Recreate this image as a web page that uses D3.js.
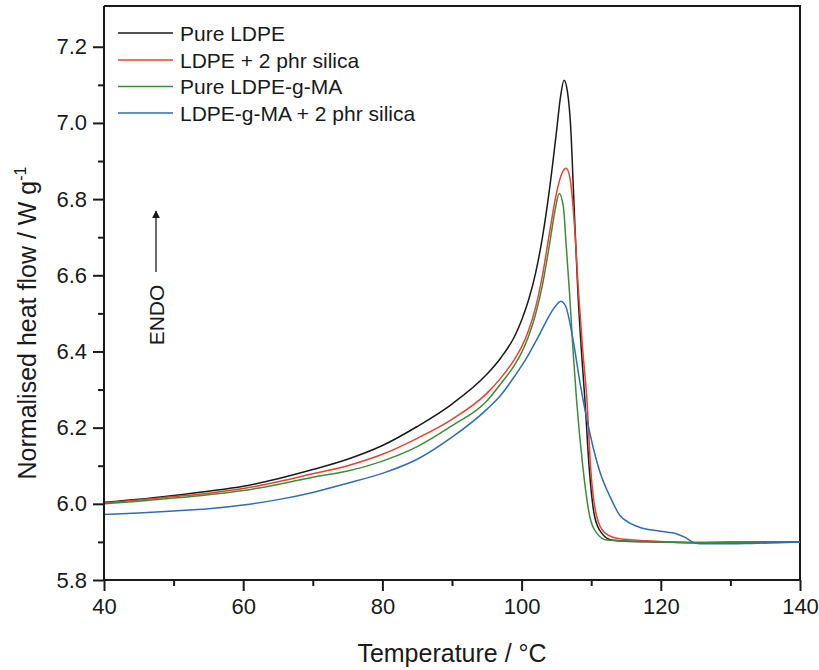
<!DOCTYPE html>
<html>
<head>
<meta charset="utf-8">
<script src="https://cdn.jsdelivr.net/npm/d3@7"></script>
<style>
  html, body { margin: 0; padding: 0; background: #fff; }
  svg { display: block; font-family: "Liberation Sans", Arial, Helvetica, sans-serif; }
</style>
</head>
<body>
<svg id="chart" width="819" height="670"></svg>
<script>
// ---- data ----
const seriesNames = ["Pure LDPE", "LDPE + 2 phr silica", "Pure LDPE-g-MA", "LDPE-g-MA + 2 phr silica"];
const seriesColors = ["#1a1a1a", "#e8432e", "#3c8c3c", "#2f6db5"];

const pureLdpeT = [40,45,50,55,60,65,70,75,80,85,90,95,97,99,100,101,102,103,104,105,105.6,106.1,106.6,107.05,107.5,108.1,108.6,109.1,109.7,110.5,111.5,112.9,115,120,125,130,135,140];
const pureLdpeV = [6.004,6.012,6.022,6.033,6.046,6.066,6.090,6.117,6.153,6.203,6.262,6.340,6.383,6.440,6.482,6.535,6.605,6.700,6.825,6.975,7.070,7.112,7.080,6.990,6.800,6.550,6.400,6.272,6.097,5.966,5.923,5.905,5.902,5.900,5.898,5.899,5.900,5.900];

const ldpeSilicaT = [40,45,50,55,60,65,70,75,80,85,90,95,97,99,100,101,102,103,104,105,105.8,106.4,107.0,107.6,108.2,108.8,109.4,109.9,110.8,112.0,114.1,118,125,130,135,140];
const ldpeSilicaV = [6.003,6.010,6.019,6.028,6.040,6.058,6.079,6.100,6.130,6.172,6.222,6.290,6.330,6.380,6.412,6.455,6.515,6.600,6.710,6.815,6.868,6.881,6.850,6.730,6.550,6.400,6.270,6.100,5.966,5.923,5.908,5.903,5.899,5.899,5.900,5.900];

const ldpeGmaT = [40,45,50,55,60,65,70,75,80,85,90,95,97,99,100,101,102,103,104,104.8,105.4,106.0,106.4,106.9,107.4,107.9,108.8,109.8,110.8,112.2,116,120,125,130,135,140];
const ldpeGmaV = [6.000,6.007,6.015,6.024,6.035,6.051,6.070,6.086,6.112,6.150,6.205,6.270,6.315,6.365,6.397,6.440,6.497,6.575,6.680,6.770,6.815,6.780,6.680,6.550,6.400,6.272,6.097,5.966,5.923,5.905,5.902,5.900,5.898,5.899,5.900,5.900];

const gmaSilicaT = [40,45,50,55,60,65,70,75,80,85,90,95,97,99,100,101,102,103,104,105,105.6,106.3,107.4,108.4,109.8,111.3,112.7,114.1,115.5,117.0,119.9,122.3,123.5,124.5,125.6,130,133,137,140];
const gmaSilicaV = [5.972,5.976,5.981,5.987,5.997,6.011,6.030,6.054,6.080,6.117,6.175,6.248,6.285,6.335,6.362,6.392,6.425,6.460,6.495,6.522,6.532,6.520,6.430,6.317,6.186,6.081,6.019,5.970,5.950,5.938,5.928,5.921,5.912,5.900,5.895,5.895,5.896,5.898,5.900];

const seriesT = [pureLdpeT, ldpeSilicaT, ldpeGmaT, gmaSilicaT];
const seriesV = [pureLdpeV, ldpeSilicaV, ldpeGmaV, gmaSilicaV];

const xTicks = [40, 60, 80, 100, 120, 140];
const xMinorTicks = [50, 70, 90, 110, 130];
const yTicks = [5.8, 6.0, 6.2, 6.4, 6.6, 6.8, 7.0, 7.2];
const yMinorTicks = [5.9, 6.1, 6.3, 6.5, 6.7, 6.9, 7.1];

const xTitle = "Temperature / °C";
const yTitle = "Normalised heat flow / W g";
const yTitleSup = "-1";
const endoLabel = "ENDO";

// ---- layout ----
const mLeft = 104, mRight = 800, mTop = 6, mBottom = 580;
const svg = d3.select("#chart");
const x = d3.scaleLinear().domain([40, 140]).range([mLeft, mRight]);
const y = d3.scaleLinear().domain([5.8, 7.307]).range([mBottom, mTop]);

const ink = "#1a1a1a";

// frame (top and right)
svg.append("path")
  .attr("d", `M${mLeft},${mTop}H${mRight}V${mBottom}`)
  .attr("fill", "none").attr("stroke", ink).attr("stroke-width", 2);

// curves
const line = d3.line().curve(d3.curveMonotoneX);
seriesT.forEach((ts, i) => {
  const pts = ts.map((t, j) => [x(t), y(seriesV[i][j])]);
  svg.append("path")
    .attr("d", line(pts))
    .attr("fill", "none")
    .attr("stroke", seriesColors[i])
    .attr("stroke-width", 1.5)
    .attr("stroke-linejoin", "round");
});

// axes
function styleAxis(g) {
  g.selectAll(".domain").attr("stroke", ink).attr("stroke-width", 2);
  g.selectAll(".tick line").attr("stroke", ink).attr("stroke-width", 2);
  g.selectAll(".tick text").attr("fill", ink).attr("font-size", 22)
    .attr("font-family", '"Liberation Sans", Arial, sans-serif');
}
const gxMinor = svg.append("g").attr("transform", `translate(0,${mBottom})`)
  .call(d3.axisBottom(x).tickValues(xMinorTicks).tickSize(6).tickFormat(""));
gxMinor.select(".domain").remove();
gxMinor.selectAll(".tick line").attr("stroke", ink).attr("stroke-width", 2);
const gyMinor = svg.append("g").attr("transform", `translate(${mLeft},0)`)
  .call(d3.axisLeft(y).tickValues(yMinorTicks).tickSize(6).tickFormat(""));
gyMinor.select(".domain").remove();
gyMinor.selectAll(".tick line").attr("stroke", ink).attr("stroke-width", 2);

const gx = svg.append("g").attr("transform", `translate(0,${mBottom})`)
  .call(d3.axisBottom(x).tickValues(xTicks).tickSize(11).tickSizeOuter(0).tickPadding(7).tickFormat(d3.format("d")));
styleAxis(gx);
gx.select(".domain").attr("d", `M${mLeft},0H${mRight}`);

const gy = svg.append("g").attr("transform", `translate(${mLeft},0)`)
  .call(d3.axisLeft(y).tickValues(yTicks).tickSize(11).tickSizeOuter(0).tickPadding(6).tickFormat(d3.format(".1f")));
styleAxis(gy);
gy.select(".domain").attr("d", `M0,${mBottom}V${mTop}`);

// axis titles
svg.append("text")
  .attr("x", (mLeft + mRight) / 2).attr("y", 662)
  .attr("text-anchor", "middle").attr("font-size", 25).attr("fill", ink)
  .text(xTitle);

const yt = svg.append("text")
  .attr("transform", `translate(36,${323}) rotate(-90)`)
  .attr("text-anchor", "middle").attr("font-size", 25).attr("fill", ink);
yt.append("tspan").text(yTitle);
yt.append("tspan").attr("dy", -10).attr("font-size", 16).text(yTitleSup);

// legend
const legendY = [33, 60, 86.5, 113];
seriesNames.forEach((name, i) => {
  svg.append("line")
    .attr("x1", 118).attr("x2", 173)
    .attr("y1", legendY[i]).attr("y2", legendY[i])
    .attr("stroke", seriesColors[i]).attr("stroke-width", 1.5);
  svg.append("text")
    .attr("x", 180).attr("y", legendY[i] + 7.5)
    .attr("font-size", 21).attr("fill", ink)
    .text(name);
});

// ENDO arrow
svg.append("defs").append("marker")
  .attr("id", "arrowhead").attr("viewBox", "0 0 10 10")
  .attr("refX", 9).attr("refY", 5)
  .attr("markerWidth", 8).attr("markerHeight", 8)
  .attr("markerUnits", "userSpaceOnUse")
  .attr("orient", "auto")
  .append("path").attr("d", "M0,0L10,5L0,10Z").attr("fill", ink);
svg.append("line")
  .attr("x1", 156).attr("x2", 156).attr("y1", 272).attr("y2", 211)
  .attr("stroke", ink).attr("stroke-width", 1.3)
  .attr("marker-end", "url(#arrowhead)");
svg.append("text")
  .attr("transform", `translate(164,315) rotate(-90)`)
  .attr("text-anchor", "middle").attr("font-size", 21).attr("fill", ink)
  .text(endoLabel);
</script>
</body>
</html>
